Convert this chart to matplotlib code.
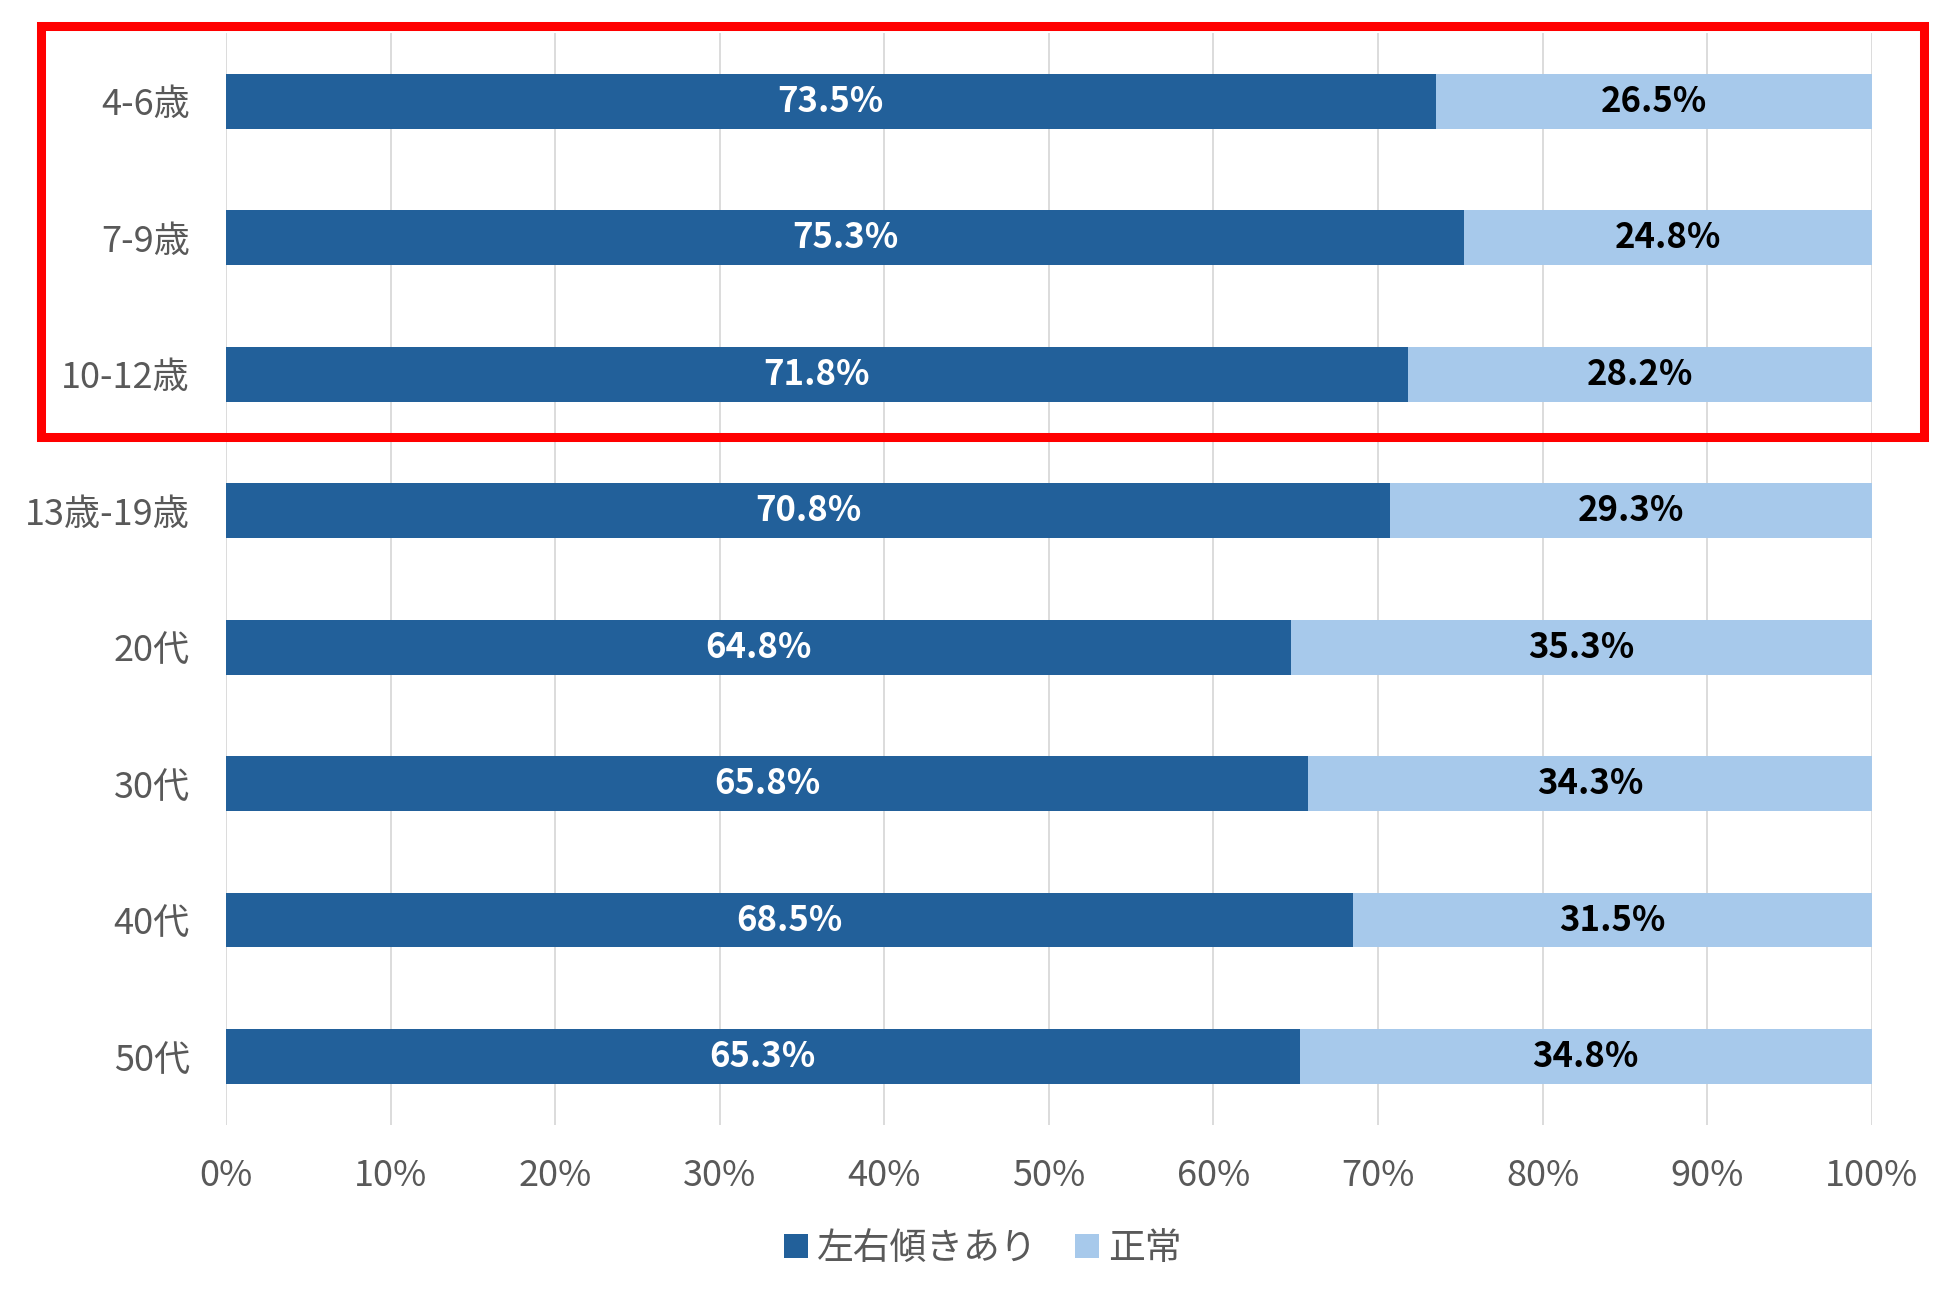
import numpy as np
import matplotlib.pyplot as plt
from matplotlib.patches import Rectangle

plt.rcParams['font.family'] = ['Noto Sans CJK JP', 'DejaVu Sans']

# データ
categories = ['4-6歳', '7-9歳', '10-12歳', '13歳-19歳', '20代', '30代', '40代', '50代']
tilt = [73.5, 75.3, 71.8, 70.8, 64.8, 65.8, 68.5, 65.3]      # 左右傾きあり
normal = [26.5, 24.8, 28.2, 29.3, 35.3, 34.3, 31.5, 34.8]    # 正常
xticks = [0, 10, 20, 30, 40, 50, 60, 70, 80, 90, 100]

dark = '#22609A'
light = '#A7C9EB'
gray = '#595959'

tilt = np.array(tilt)
normal = np.array(normal)
total = tilt + normal
tilt_pct = tilt / total * 100
normal_pct = normal / total * 100

fig = plt.figure(figsize=(19.5, 12.99), dpi=100)
ax = fig.add_axes([0.1159, 0.134, 0.844, 0.8406])

y = np.arange(len(categories))
b1 = ax.barh(y, tilt_pct, height=0.4, color=dark, label='左右傾きあり', zorder=2)
b2 = ax.barh(y, normal_pct, left=tilt_pct, height=0.4, color=light, label='正常', zorder=2)

# ラベル
for i in range(len(categories)):
    ax.text(tilt_pct[i] / 2, y[i], f'{tilt[i]:.1f}%', ha='center', va='center',
            color='white', fontsize=25, fontweight='bold', zorder=3)
    ax.text(tilt_pct[i] + normal_pct[i] / 2, y[i], f'{normal[i]:.1f}%', ha='center', va='center',
            color='black', fontsize=25, fontweight='bold', zorder=3)

ax.set_xlim(0, 100)
ax.set_ylim(len(categories) - 0.5, -0.5)
ax.set_xticks(xticks)
ax.set_xticklabels([f'{t}%' for t in xticks])
ax.set_yticks(y)
ax.set_yticklabels(categories)
ax.tick_params(axis='both', length=0, labelsize=26, labelcolor=gray)
ax.tick_params(axis='x', pad=24)
ax.tick_params(axis='y', pad=26)
ax.grid(axis='x', color='#D9D9D9', linewidth=1.3, zorder=0)
for s in ax.spines.values():
    s.set_visible(False)

# 凡例
fig.legend(handles=[b1, b2], loc='center', bbox_to_anchor=(0.504, 0.039), ncol=2,
           frameon=False, fontsize=26.5, labelcolor=gray, handlelength=0.65, handleheight=0.65,
           handletextpad=0.25, columnspacing=1.0)

# 赤枠
fig.patches.append(Rectangle((40.5 / 1950, 1 - 437.5 / 1299), (1923.5 - 40.5) / 1950,
                             (437.5 - 26.5) / 1299, transform=fig.transFigure,
                             fill=False, edgecolor='#FF0000', linewidth=6.5, zorder=5))

fig.savefig('out.png', dpi=100)
